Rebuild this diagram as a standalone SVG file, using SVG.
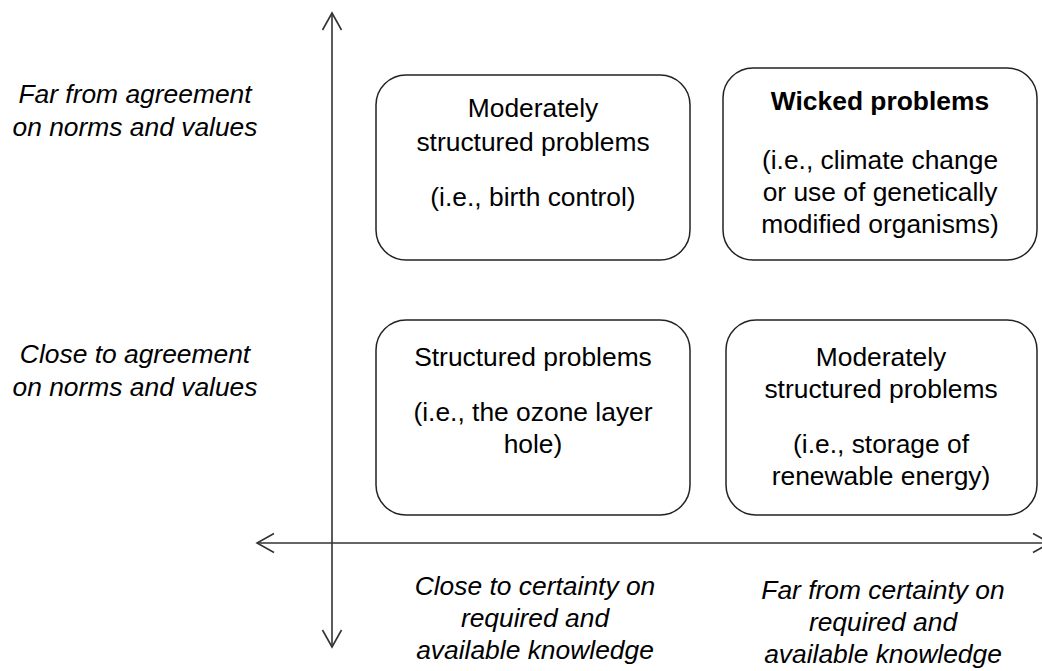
<svg xmlns="http://www.w3.org/2000/svg" width="1042" height="671" viewBox="0 0 1042 671">
<style>
.box{fill:#fff;stroke:#222;stroke-width:1.5}
.ax{fill:none;stroke:#333;stroke-width:1.6}
text{font-family:"Liberation Sans",Arial,sans-serif;font-size:26.4px;fill:#000;text-anchor:middle}
.it{font-style:italic}
.b{font-weight:bold}
</style>
<rect width="1042" height="671" fill="#fff"/>
<g id="connectors">
<path class="ax" d="M332,647 L332,13"/>
<path class="ax" d="M322.5,30 L332,13 L341.5,30"/>
<path class="ax" d="M322.5,630 L332,647 L341.5,630"/>
<path class="ax" d="M257,543 L1050,543"/>
<path class="ax" d="M274,533.5 L257,543 L274,552.5"/>
<path class="ax" d="M1033,533.5 L1050,543 L1033,552.5"/>
</g>
<g id="label-far-agreement">
<text class="it" x="135" y="103">Far from agreement</text>
<text class="it" x="135" y="136">on norms and values</text>
</g>
<g id="label-close-agreement">
<text class="it" x="135" y="363">Close to agreement</text>
<text class="it" x="135" y="396">on norms and values</text>
</g>
<g id="node-tl">
<rect class="box" x="376" y="75" width="314" height="185" rx="30"/>
<text x="533" y="117">Moderately</text>
<text x="533" y="151">structured problems</text>
<text x="533" y="206">(i.e., birth control)</text>
</g>
<g id="node-tr">
<rect class="box" x="723" y="68" width="314" height="192" rx="30"/>
<text class="b" x="880" y="110">Wicked problems</text>
<text x="880" y="169">(i.e., climate change</text>
<text x="880" y="201">or use of genetically</text>
<text x="880" y="233">modified organisms)</text>
</g>
<g id="node-bl">
<rect class="box" x="376" y="320" width="314" height="195" rx="30"/>
<text x="533" y="366">Structured problems</text>
<text x="533" y="421">(i.e., the ozone layer</text>
<text x="533" y="453">hole)</text>
</g>
<g id="node-br">
<rect class="box" x="726" y="320" width="311" height="195" rx="30"/>
<text x="881" y="366">Moderately</text>
<text x="881" y="398">structured problems</text>
<text x="881" y="453">(i.e., storage of</text>
<text x="881" y="485">renewable energy)</text>
</g>
<g id="label-close-certainty">
<text class="it" x="535" y="595">Close to certainty on</text>
<text class="it" x="535" y="627">required and</text>
<text class="it" x="535" y="659">available knowledge</text>
</g>
<g id="label-far-certainty">
<text class="it" x="883" y="599">Far from certainty on</text>
<text class="it" x="883" y="631">required and</text>
<text class="it" x="883" y="663">available knowledge</text>
</g>
</svg>
